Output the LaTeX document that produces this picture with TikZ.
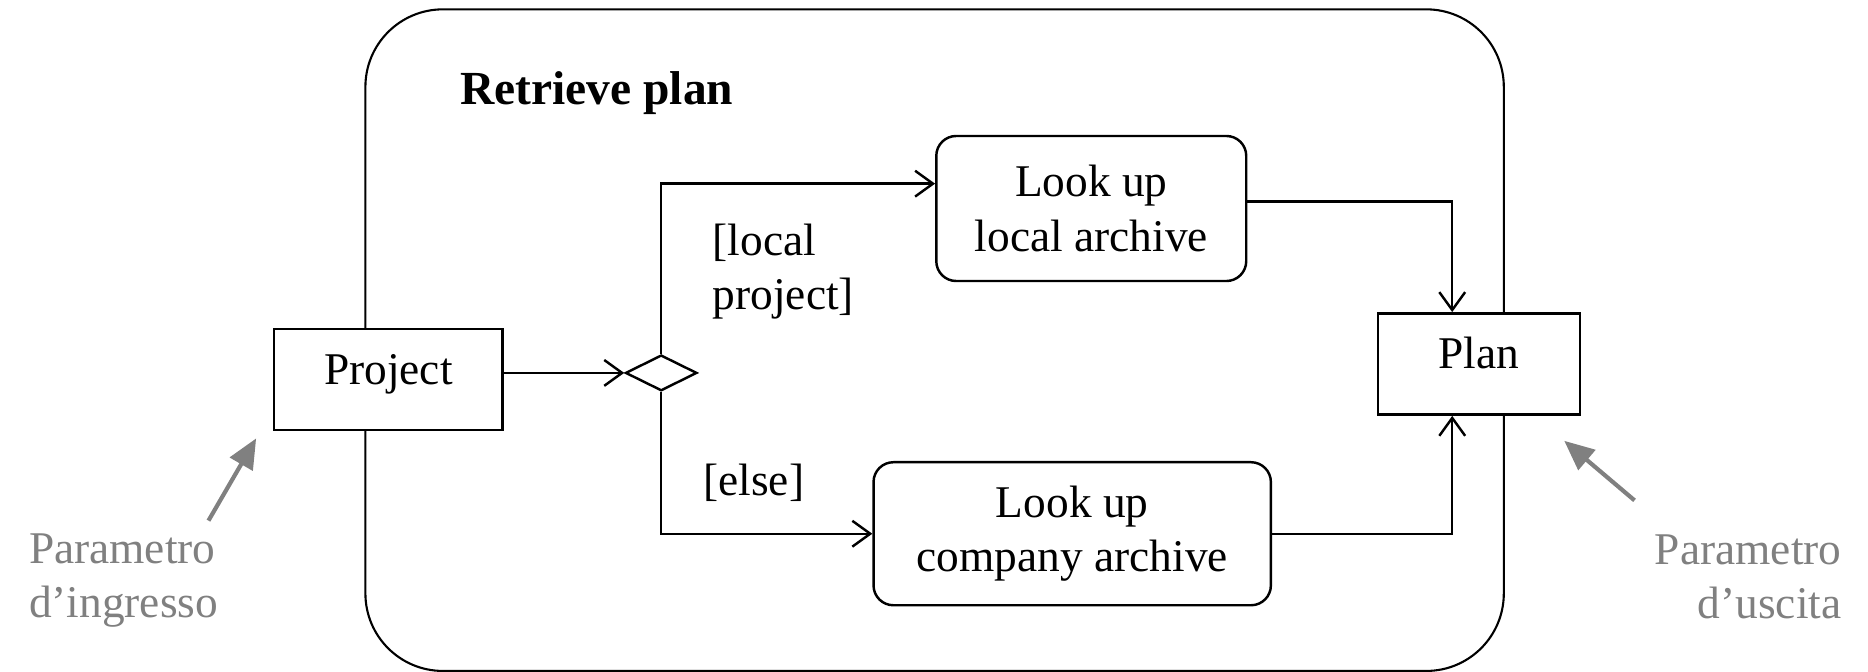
\documentclass[tikz,border=0pt]{standalone}
\usepackage{fontspec}
\setmainfont{Liberation Serif}
\usetikzlibrary{shapes.geometric,arrows.meta}
\tikzset{
    txt/.style={font=\fontsize{13}{15.5}\selectfont},
    pin/.style={draw, fill=white, line width=0.7pt, txt, text height=0.35cm, text depth=0.25cm},
    act/.style={draw, rounded corners=0.2cm, line width=0.7pt, txt, align=center},
    flow/.style={line width=0.7pt, -{Straight Barb[length=1.8mm,width=2.6mm]}},
    note/.style={txt, text=gray},
    hint/.style={draw=gray, line width=1.2pt, -{Triangle[length=3mm,width=2.6mm]}}
}
\begin{document}
\begin{tikzpicture}[x=0.012cm,y=-0.012cm]
    \useasboundingbox (0,0) rectangle (1568,564);
    \node[draw, line width=0.6pt, rounded corners=0.78cm, minimum width=11.46cm, minimum height=6.66cm] (frame) at (784.5,285.5) {};
    \node[font=\fontsize{13.6}{16}\selectfont\bfseries, anchor=west] (title) at (376,78) {Retrieve plan};
    \node[pin, minimum width=2.3cm, minimum height=1.02cm] (project) at (326,318.5) {Project};
    \node[pin, minimum width=2.03cm, minimum height=1.02cm] (plan) at (1241.5,305.5) {Plan};
    \node[draw, diamond, aspect=2, inner sep=0pt, line width=0.7pt, minimum width=0.72cm, minimum height=0.36cm] (choice) at (555,313) {};
    \node[act, minimum width=3.12cm, minimum height=1.46cm] (local) at (916,175) {Look up\\local archive};
    \node[act, minimum width=4.0cm, minimum height=1.44cm] (company) at (900,448) {Look up\\company archive};
    \node[txt, anchor=west, align=left] (localg) at (588,228) {[local\\project]};
    \node[txt, anchor=west, align=left] (elseg) at (580,405) {[else]};
    % flows
    \draw[flow] (project.east |- choice.west) -- (choice.west);
    \draw[flow] (choice.north) |- ([yshift=0.25cm]local.west);
    \draw[flow] (choice.south) |- (company.west);
    \draw[flow] ([yshift=0.07cm]local.east) -| ([xshift=-0.27cm]plan.north);
    \draw[flow] (company.east) -| ([xshift=-0.27cm]plan.south);
    % parameters
    \node[note, anchor=west, align=left] (innote) at (14,487) {Parametro\\d’ingresso};
    \node[note, anchor=east, align=right] (outnote) at (1556,484) {Parametro\\d’uscita};
    \coordinate (inA) at (175,437); \coordinate (inB) at (215,368);
    \coordinate (outA) at (1372,420); \coordinate (outB) at (1313,370);
    \draw[hint] (inA) -- (inB);
    \draw[hint] (outA) -- (outB);
\end{tikzpicture}
\end{document}
